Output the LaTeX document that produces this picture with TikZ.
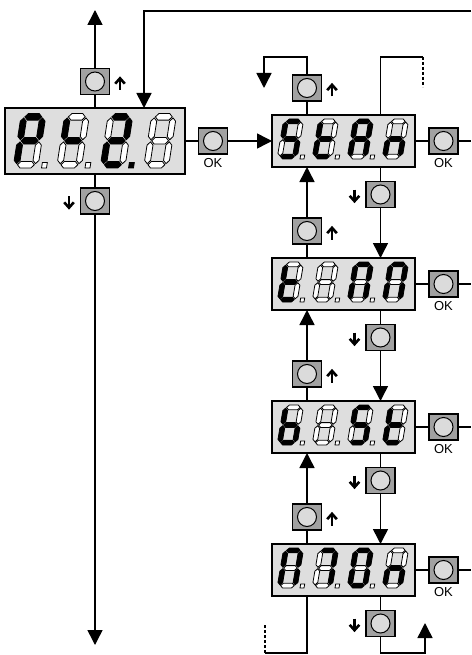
\documentclass[tikz,border=0pt]{standalone}
\usepackage{fontspec}
\setmainfont{Liberation Sans}
\usetikzlibrary{arrows.meta}
\definecolor{dispgray}{gray}{0.87}
\definecolor{btngray}{gray}{0.63}
\definecolor{circgray}{gray}{0.86}
\tikzset{
 s0/.style={fill=white,draw=black,line width=0.8pt},
 s1/.style={fill=black,draw=black,line width=0.8pt},
 s2/.style={},
 digscope/.style={},
 disp/.style={draw=black,line width=1.5pt,fill=dispgray,minimum width=143pt,minimum height=52pt,inner sep=0pt,outer sep=0pt},
 btn/.style={draw=black,line width=1.2pt,fill=btngray,minimum width=29pt,minimum height=26pt,inner sep=0pt,outer sep=0pt,
   path picture={\draw[line width=1pt,fill=circgray] (path picture bounding box.center) circle (9.5pt);}},
 conn/.style={line width=1.5pt},
 arr/.style={conn,-{Triangle[width=15pt,length=15pt]}},
 okl/.style={font=\fontsize{13}{13}\selectfont,inner sep=0pt},
 glyph/.style={line width=2.6pt},
}
\newcommand\hsegm[4]{\path[s#4] ({#1+0.8},#3) -- ({#1+3.2},{#3+2.4}) -- ({#2-3.2},{#3+2.4}) -- ({#2-0.8},#3) -- ({#2-3.2},{#3-2.4}) -- ({#1+3.2},{#3-2.4}) -- cycle;}
\newcommand\vsegm[4]{\path[s#4] (#1,{#2+0.8}) -- ({#1+2.4},{#2+3.2}) -- ({#1+2.4},{#3-3.2}) -- (#1,{#3-0.8}) -- ({#1-2.4},{#3-3.2}) -- ({#1-2.4},{#2+3.2}) -- cycle;}
\newcommand\dig[9]{%
 \begin{scope}[shift={(#1)},x=1pt,y=1pt,digscope,xslant=0.17]
  \hsegm{2.4}{17.6}{37.6}{#2}
  \vsegm{17.6}{20}{37.6}{#3}
  \vsegm{17.6}{2.4}{20}{#4}
  \hsegm{2.4}{17.6}{2.4}{#5}
  \vsegm{2.4}{2.4}{20}{#6}
  \vsegm{2.4}{20}{37.6}{#7}
  \hsegm{2.4}{17.6}{20}{#8}
  \path[s#9] (23,0) rectangle (27,4);
 \end{scope}}
\begin{document}
\begin{tikzpicture}[x=1pt,y=-1pt]
\useasboundingbox (0,0) rectangle (471,655);
% main left line
\coordinate (LT) at (95,10);
\coordinate (LB) at (95,645);
\draw[conn,{Triangle[width=15pt,length=15pt]}-{Triangle[width=15pt,length=15pt]}] (LT) -- (LB);
% display 1
\node[disp,minimum width=180pt,minimum height=66pt] (P1) at (95,141) {};
\node[btn] (Up1) at (95,81.5) {};
\node[btn] (Dn1) at (95,201) {};
\node[btn] (OK1) at (213,141) {};
\node[okl] (okt1) at (213,163) {OK};
% displays 2-5
\foreach \k/\cy in {2/141,3/284,4/427,5/570}{
 \node[disp] (P\k) at (343.5,\cy) {};
 \node[btn] (OK\k) at (443.5,\cy) {};
 \node[okl] (okt\k) at (443.5,\cy+22.5) {OK};
 \node[btn] (Up\k) at (307,\cy-53) {};
 \node[btn] (Dn\k) at (380.5,\cy+53.5) {};
 \coordinate (R\k) at (471,\cy);
 \draw[conn] (P\k.east) -- (OK\k.west);
 \draw[conn] (OK\k.east) -- (R\k);
}
% connectors
\coordinate (TR) at (471,11);
\draw[arr] (TR) -| ([xshift=49pt]P1.north);
\draw[conn] (P1.east) -- (OK1.west);
\draw[arr] (OK1.east) -- (P2.west);
\foreach \a/\b in {2/3,3/4,4/5}{
 \draw[conn] (P\a.south -| Dn\a) -- (Dn\a.north);
 \draw[arr] (Dn\a.south) -- (P\b.north -| Dn\a);
 \draw[conn] (P\b.north -| Up\b) -- (Up\b.south);
 \draw[arr] (Up\b.north) -- (P\a.south -| Up\b);
}
\draw[conn] (P2.north -| Up2) -- (Up2.south);
\coordinate (LA) at (264,57);
\coordinate (LBB) at (264,88);
\draw[arr] (Up2.north) |- (LA) -- (LBB);
\coordinate (RA) at (423,57);
\coordinate (RB) at (423,87);
\draw[conn] (P2.north -| Dn2) |- (RA);
\draw[conn,dash pattern=on 3pt off 2pt] (RA) -- (RB);
\coordinate (BA) at (265,653);
\coordinate (BB) at (265,625);
\draw[conn] (P5.south -| Up5) |- (BA);
\draw[conn,dash pattern=on 3pt off 2pt] (BA) -- (BB);
\draw[conn] (P5.south -| Dn5) -- (Dn5.north);
\coordinate (BC) at (425,653);
\coordinate (BD) at (425,623);
\draw[arr] (Dn5.south) |- (BC) -- (BD);
% glyph arrows next to buttons
\foreach \n in {Up1,Up2,Up3,Up4,Up5}{\begin{scope}[shift={(\n.center)},shift={(25,2)}]\draw[glyph] (0,6.5) -- (0,-3.5); \draw[glyph] (-4.8,0.2) -- (0,-5.2) -- (4.8,0.2);\end{scope}}
\foreach \n in {Dn1,Dn2,Dn3,Dn4,Dn5}{\begin{scope}[shift={(\n.center)},shift={(-26,1.5)}]\draw[glyph] (0,-6.5) -- (0,3.5); \draw[glyph] (-4.8,-0.2) -- (0,5.2) -- (4.8,-0.2);\end{scope}}
% digits display 1
\begin{scope}[digscope/.style={xscale=1.24,yscale=1.36}]
\dig{13,168}{1}{1}{0}{0}{1}{1}{1}{0}
\dig{56.5,168}{0}{0}{0}{0}{0}{1}{1}{0}
\dig{100,168}{1}{1}{0}{1}{1}{0}{1}{1}
\dig{143.5,168}{0}{0}{0}{0}{0}{0}{0}{2}
\end{scope}
% display 2
\dig{277,159}{1}{0}{1}{1}{0}{1}{1}{0}
\dig{312,159}{0}{0}{0}{1}{1}{1}{1}{0}
\dig{347,159}{1}{1}{1}{0}{1}{1}{1}{0}
\dig{382,159}{0}{0}{1}{0}{1}{0}{1}{2}
% display 3
\dig{277,302}{0}{0}{0}{1}{1}{1}{1}{0}
\dig{312,302}{0}{0}{0}{0}{0}{0}{0}{0}
\dig{347,302}{1}{1}{1}{0}{1}{1}{0}{0}
\dig{382,302}{1}{1}{1}{0}{1}{1}{0}{2}
% display 4
\dig{277,445}{0}{0}{1}{1}{1}{1}{1}{0}
\dig{312,445}{0}{0}{0}{0}{0}{0}{0}{0}
\dig{347,445}{1}{0}{1}{1}{0}{1}{1}{0}
\dig{382,445}{0}{0}{0}{1}{1}{1}{1}{2}
% display 5
\dig{277,588}{1}{1}{1}{0}{1}{1}{0}{0}
\dig{312,588}{1}{1}{1}{0}{0}{0}{0}{0}
\dig{347,588}{1}{1}{1}{1}{1}{1}{0}{0}
\dig{382,588}{0}{0}{1}{0}{1}{0}{1}{2}
\end{tikzpicture}
\end{document}
